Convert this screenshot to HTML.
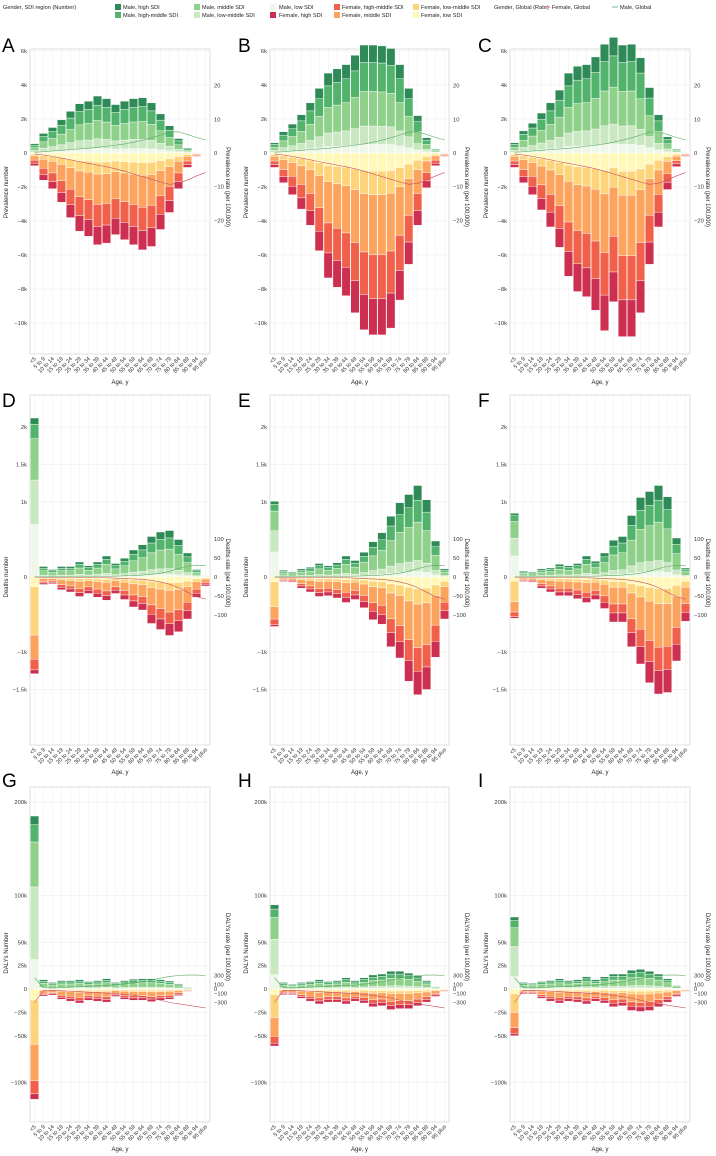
<!DOCTYPE html>
<html><head><meta charset="utf-8"><style>
body{margin:0;background:#fff;}
svg{display:block;font-family:"Liberation Sans",sans-serif;}
</style></head><body>
<svg id="fig" width="716" height="1156" viewBox="0 0 716 1156" xmlns="http://www.w3.org/2000/svg">
<g id="legend" font-size="5.6" fill="#222">
 <text x="3" y="9">Gender, SDI region (Number)</text>
 <g><rect x="115" y="4" width="6" height="6" fill="#2e8b57"/><text x="123" y="9">Male, high SDI</text></g>
 <g><rect x="115" y="12" width="6" height="6" fill="#52b36c"/><text x="123" y="17">Male, high-middle SDI</text></g>
 <g><rect x="194" y="4" width="6" height="6" fill="#8fd08a"/><text x="202" y="9">Male, middle SDI</text></g>
 <g><rect x="194" y="12" width="6" height="6" fill="#c9e7c1"/><text x="202" y="17">Male, low-middle SDI</text></g>
 <g><rect x="270" y="4" width="6" height="6" fill="#eef7ea"/><text x="279" y="9">Male, low SDI</text></g>
 <g><rect x="270" y="12" width="6" height="6" fill="#cc2f50"/><text x="279" y="17">Female, high SDI</text></g>
 <g><rect x="334" y="4" width="6" height="6" fill="#f0604b"/><text x="342" y="9">Female, high-middle SDI</text></g>
 <g><rect x="334" y="12" width="6" height="6" fill="#fca35d"/><text x="342" y="17">Female, middle SDI</text></g>
 <g><rect x="413" y="4" width="6" height="6" fill="#fed47a"/><text x="421" y="9">Female, low-middle SDI</text></g>
 <g><rect x="413" y="12" width="6" height="6" fill="#fff8b8"/><text x="421" y="17">Female, low SDI</text></g>
 <text x="494" y="9">Gender, Global (Rate)</text>
 <g><line x1="544" y1="7" x2="550" y2="7" stroke="#e06070" stroke-width="0.8"/><text x="552" y="9">Female, Global</text></g>
 <g><line x1="612" y1="7" x2="618" y2="7" stroke="#5aaa66" stroke-width="0.8"/><text x="620" y="9">Male, Global</text></g>
</g>
</svg>
<script>
const ages = ["<5","5 to 9","10 to 14","15 to 19","20 to 24","25 to 29","30 to 34","35 to 39","40 to 44","45 to 49","50 to 54","55 to 59","60 to 64","65 to 69","70 to 74","75 to 79","80 to 84","85 to 89","90 to 94","95 plus"];
const maleColors = ["#eef7ea","#c9e7c1","#8fd08a","#52b36c","#2e8b57"];
const femaleColors = ["#fff8b8","#fed47a","#fca35d","#f0604b","#cc2f50"];

const prevA_male = [0.55,1.15,1.5,1.95,2.45,2.9,3.05,3.35,3.2,2.85,3.05,3.2,3.25,2.95,2.3,1.6,0.85,0.3,0.08,0.02];
const prevA_female = [-0.75,-1.6,-2.1,-2.9,-3.8,-4.6,-4.9,-5.4,-5.3,-4.8,-5.1,-5.4,-5.7,-5.5,-4.5,-3.5,-2.1,-0.85,-0.2,-0.03];
const prevB_male = [0.6,1.25,1.7,2.25,2.95,3.8,4.7,4.95,5.2,5.75,6.35,6.35,6.3,6.15,5.2,3.8,2.2,0.9,0.25,0.05];
const prevB_female = [-0.85,-1.75,-2.45,-3.3,-4.25,-5.75,-7.35,-7.9,-8.4,-9.4,-10.4,-10.7,-10.7,-10.3,-8.65,-6.55,-4.25,-2.05,-0.75,-0.2];
const prevC_male = [0.6,1.3,1.75,2.35,2.95,3.7,4.7,5.1,5.2,5.65,6.4,6.8,6.35,6.4,5.6,3.85,2.25,0.95,0.25,0.05];
const prevC_female = [-0.85,-1.75,-2.45,-3.35,-4.35,-5.55,-7.25,-8.15,-8.45,-9.25,-10.45,-8.75,-10.8,-10.8,-9.4,-6.55,-4.35,-2.15,-0.8,-0.2];
const deathD_male = [2.12,0.14,0.1,0.14,0.14,0.2,0.15,0.2,0.28,0.18,0.25,0.36,0.43,0.54,0.6,0.62,0.5,0.32,0.1,0.02];
const deathD_female = [-1.29,-0.1,-0.09,-0.17,-0.2,-0.26,-0.22,-0.27,-0.31,-0.22,-0.3,-0.4,-0.44,-0.62,-0.7,-0.78,-0.73,-0.56,-0.27,-0.12];
const deathE_male = [1.01,0.09,0.07,0.11,0.13,0.18,0.15,0.19,0.28,0.22,0.33,0.47,0.59,0.81,0.99,1.1,1.22,1.03,0.48,0.11];
const deathE_female = [-0.66,-0.06,-0.07,-0.15,-0.2,-0.26,-0.25,-0.28,-0.34,-0.3,-0.41,-0.57,-0.63,-0.93,-1.08,-1.39,-1.57,-1.5,-1.07,-0.56];
const deathF_male = [0.85,0.08,0.07,0.11,0.12,0.17,0.15,0.18,0.28,0.21,0.32,0.49,0.54,0.82,1.06,1.14,1.22,1.07,0.52,0.12];
const deathF_female = [-0.55,-0.06,-0.07,-0.15,-0.2,-0.25,-0.25,-0.29,-0.34,-0.3,-0.42,-0.6,-0.6,-0.93,-1.16,-1.41,-1.56,-1.54,-1.12,-0.59];
const dalyG_male = [185,10,7,9,9,10,8,9,11,7,9,10.5,11,11,10,8.5,5.5,2.5,0.5,0.1];
const dalyG_female = [-118,-7.5,-6.5,-11,-13,-15,-12,-13,-14,-8,-11,-12,-12,-13.5,-12,-11,-7,-3,-1,-0.3];
const dalyH_male = [90,7,5,7,8,10,8,9,12,9,12,15,16,19,19,17,14,9,3,0.5];
const dalyH_female = [-61,-6,-6,-10,-13,-16,-14,-14,-16,-13,-15,-19,-18,-22,-21,-21,-18,-14,-8,-3];
const dalyI_male = [77,7,6,8,9,11,9,10,13,10,13,16,16,20,21,19,16,11,4,1];
const dalyI_female = [-50,-5,-5,-10,-13,-15,-13,-14,-16,-13,-15,-19,-18,-23,-24,-23,-19,-14,-8,-3];

const prevMaleShare = [0.08,0.17,0.32,0.27,0.16];
const prevFemaleShare = [0.1,0.13,0.33,0.24,0.2];
const u5MaleShare = [0.33,0.28,0.26,0.09,0.04];
const u5FemaleShare = [0.1,0.5,0.25,0.11,0.04];
const oldMaleShare = [0.06,0.12,0.42,0.24,0.16];
const oldFemaleShare = [0.1,0.13,0.37,0.2,0.2];
const u5DalyMaleShare = [0.17,0.42,0.26,0.1,0.05];
const u5DalyFemaleShare = [0.1,0.4,0.33,0.12,0.05];

const rate1_male = [0.2,0.4,0.6,0.8,1.0,1.2,1.4,1.7,2.0,2.3,2.7,3.2,3.8,4.5,5.3,6.2,6.3,5.5,4.6,3.9];
const rate1_female = [-0.3,-0.6,-1.0,-1.5,-2.0,-2.6,-3.1,-3.6,-4.1,-4.7,-5.4,-6.2,-7.0,-7.8,-8.6,-9.3,-9.0,-8.0,-6.8,-5.8];
const rate2_male = [0,1,1,1,1,1,1,2,2,2,3,4,5,7,10,15,22,28,31,30];
const rate2_female = [0,-1,-1,-1,-1,-1,-1,-2,-2,-3,-4,-5,-6,-9,-13,-19,-28,-40,-52,-58];
const rate3_male = [250,30,20,30,40,50,60,70,80,90,110,130,160,200,240,280,300,310,310,300];
const rate3_female = [-300,-30,-30,-40,-50,-60,-70,-80,-90,-100,-120,-140,-170,-200,-250,-300,-330,-360,-390,-420];

const prevTicks = [6,4,2,0,-2,-4,-6,-8,-10];
const prevTickLabels = ["6k","4k","2k","0","\u22122k","\u22124k","\u22126k","\u22128k","\u221210k"];
const prevRateTicks = [20,10,0,-10,-20];
const prevRateLabels = ["20","10","0","\u221210","\u221220"];
const deathTicks = [2,1.5,1,0,-1,-1.5];
const deathTickLabels = ["2k","1.5k","1k","0","\u22121k","\u22121.5k"];
const deathRateTicks = [100,50,0,-50,-100];
const deathRateLabels = ["100","50","0","\u221250","\u2212100"];
const dalyTicks = [200,100,50,25,0,-25,-50,-100];
const dalyTickLabels = ["200k","100k","50k","25k","0","\u221225k","\u221250k","\u2212100k"];
const dalyRateTicks = [300,100,0,-100,-300];
const dalyRateLabels = ["300","100","0","\u2212100","\u2212300"];

const NS = "http://www.w3.org/2000/svg";
const svg = document.getElementById('fig');
function el(tag, attrs, parent){const e=document.createElementNS(NS,tag);for(const k in attrs)e.setAttribute(k,attrs[k]);(parent||svg).appendChild(e);return e;}

const cols = [[30,210],[270,449],[510,690]];
const rows = [
 {top:49,bottom:354,zero:153,pk:17,pr:3.37,ticks:prevTicks,tl:prevTickLabels,rt:prevRateTicks,rl:prevRateLabels,lt:"Prevalence number",rtt:"Prevalence rate (per 100,000)",ltY:192,rtY:187,ageY:384,letterY:52,mS:prevMaleShare,fS:prevFemaleShare,mS0:prevMaleShare,fS0:prevFemaleShare,rm:rate1_male,rf:rate1_female},
 {top:395,bottom:745,zero:577,pk:75,pr:0.38,ticks:deathTicks,tl:deathTickLabels,rt:deathRateTicks,rl:deathRateLabels,lt:"Deaths number",rtt:"Deaths rate (per 100,000)",ltY:577,rtY:573,ageY:774,letterY:407,mS:oldMaleShare,fS:oldFemaleShare,mS0:u5MaleShare,fS0:u5FemaleShare,rm:rate2_male,rf:rate2_female},
 {top:787,bottom:1122,zero:989,pk:0.935,pr:0.045,ticks:dalyTicks,tl:dalyTickLabels,rt:dalyRateTicks,rl:dalyRateLabels,lt:"DALYs Number",rtt:"DALYs rate (per 100,000)",ltY:953,rtY:947,ageY:1151,letterY:787,mS:oldMaleShare,fS:oldFemaleShare,mS0:u5DalyMaleShare,fS0:u5DalyFemaleShare,rm:rate3_male,rf:rate3_female}
];
const panels = [
 ["A",0,0,prevA_male,prevA_female],["B",0,1,prevB_male,prevB_female],["C",0,2,prevC_male,prevC_female],
 ["D",1,0,deathD_male,deathD_female],["E",1,1,deathE_male,deathE_female],["F",1,2,deathF_male,deathF_female],
 ["G",2,0,dalyG_male,dalyG_female],["H",2,1,dalyH_male,dalyH_female],["I",2,2,dalyI_male,dalyI_female]
];

panels.forEach(([L,ri,ci,male,female])=>{
  const R=rows[ri], x0=cols[ci][0], x1=cols[ci][1];
  const band=(x1-x0)/ages.length;
  const xc=i=>x0+band*(i+0.5);
  const y=v=>R.zero - v*R.pk;
  const yr=v=>R.zero - v*R.pr;
  const g=el('g',{});
  
  
  const lt=el('text',{x:ci===0?2:(ci===1?238:478),y:R.letterY,'font-size':19,fill:'#000'},g);
  lt.textContent=L;
  
  
  for(let i=0;i<ages.length;i++){ el('line',{x1:xc(i),x2:xc(i),y1:R.top,y2:R.bottom,stroke:'#ececec','stroke-width':0.5},g); }
  R.ticks.forEach((t,k)=>{
    el('line',{x1:x0,x2:x1,y1:y(t),y2:y(t),stroke:'#ececec','stroke-width':0.5},g);
    const tx=el('text',{x:x0-3,y:y(t)+2,'font-size':5.8,'text-anchor':'end',fill:'#333'},g);
    tx.textContent=R.tl[k];
    
    
  });
  el('rect',{x:x0,y:R.top,width:x1-x0,height:R.bottom-R.top,fill:'none',stroke:'#d8d8d8','stroke-width':0.8},g);
  const bw=band*0.94;
  ages.forEach((a,i)=>{
    const ms=i===0?R.mS0:R.mS, fs=i===0?R.fS0:R.fS;
    let acc=0;
    ms.forEach((s,k)=>{
      const v=male[i]*s;
      const r=el('rect',{x:xc(i)-bw/2,y:y(acc+v),width:bw,height:Math.max(0,y(acc)-y(acc+v)),fill:maleColors[k],stroke:'#fff','stroke-width':0.4},g);
      
      
      acc+=v;
    });
    acc=0;
    fs.forEach((s,k)=>{
      const v=female[i]*s;
      const r=el('rect',{x:xc(i)-bw/2,y:y(acc),width:bw,height:Math.max(0,y(acc+v)-y(acc)),fill:femaleColors[k],stroke:'#fff','stroke-width':0.4},g);
      
      
      acc+=v;
    });
    const xt=el('text',{x:xc(i)+2,y:R.bottom+5,'font-size':5.6,'text-anchor':'end',fill:'#333',transform:`rotate(-45 ${xc(i)+2} ${R.bottom+5})`},g);
    xt.textContent=a;
    
    
  });
  const pm=R.rm.map((v,i)=>xc(i)+','+yr(v)).join(' ');
  const pf=R.rf.map((v,i)=>xc(i)+','+yr(v)).join(' ');
  const l1=el('polyline',{points:pm,fill:'none',stroke:'#5aaa66','stroke-width':0.6},g);
  
  
  const l2=el('polyline',{points:pf,fill:'none',stroke:'#c8505e','stroke-width':0.6},g);
  
  
  R.rt.forEach((t,k)=>{
    const tx=el('text',{x:x1+4,y:yr(t)+2,'font-size':5.8,fill:'#333'},g);
    tx.textContent=R.rl[k];
    
    
  });
  const yt=el('text',{x:0,y:0,'font-size':6,'text-anchor':'middle',fill:'#222',transform:`translate(${x0-22},${R.ltY}) rotate(-90)`},g);
  yt.textContent=R.lt;
  
  
  const rt=el('text',{x:0,y:0,'font-size':6,'text-anchor':'middle',fill:'#222',transform:`translate(${x1+16},${R.rtY}) rotate(90)`},g);
  rt.textContent=R.rtt;
  
  
  const at=el('text',{x:(x0+x1)/2,y:R.ageY,'font-size':6,'text-anchor':'middle',fill:'#222'},g);
  at.textContent="Age, y";
  
  
});
</script>
</body></html>
